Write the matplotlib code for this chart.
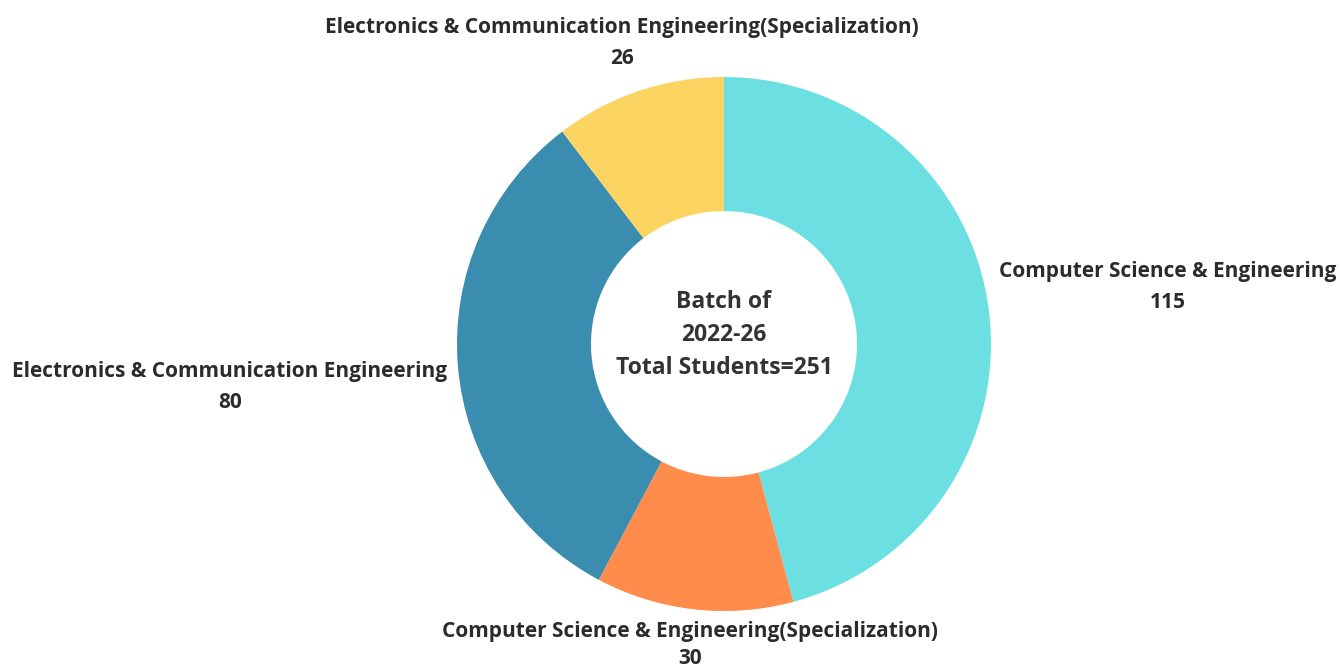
import matplotlib.pyplot as plt

# batch data
labels = [
    "Computer Science & Engineering",
    "Computer Science & Engineering(Specialization)",
    "Electronics & Communication Engineering",
    "Electronics & Communication Engineering(Specialization)",
]
counts = [115, 30, 80, 26]
colors = ["#6CDFE2", "#FF8C4A", "#3B8DB0", "#FCD462"]

center_lines = ["Batch of", "2022-26", "Total Students=" + str(sum(counts))]

plt.rcParams['font.family'] = ['Open Sans', 'DejaVu Sans']

fig = plt.figure(figsize=(13.41, 6.71), dpi=100)
ax = fig.add_axes([0, 0, 1, 1])

# donut, starting at 12 o'clock going clockwise
ax.pie(counts, colors=colors, startangle=90, counterclock=False,
       center=(724, 327), radius=267, frame=True,
       wedgeprops=dict(width=134, linewidth=0))
ax.set_xlim(0, 1341)
ax.set_ylim(0, 671)
ax.set_aspect('equal')
ax.axis('off')

# label positions (pixel layout, y measured from top) and gap to the number
label_pos = [(1168, 272), (690, 631), (230, 372), (622, 27)]
num_gap = [31, 28, 31, 31]
for name, n, (x, y), g in zip(labels, counts, label_pos, num_gap):
    ax.text(x, 671 - y, name, ha='center', va='center', fontsize=15,
            fontweight='bold', color='#2b2b2b')
    ax.text(x, 671 - y - g, str(n), ha='center', va='center', fontsize=15,
            fontweight='bold', color='#2b2b2b')

for i, line in enumerate(center_lines):
    ax.text(724, 671 - 302 - i * 33, line, ha='center', va='center',
            fontsize=16.5, fontweight='bold', color='#333333')

fig.savefig("out.png", dpi=100, facecolor='white')
